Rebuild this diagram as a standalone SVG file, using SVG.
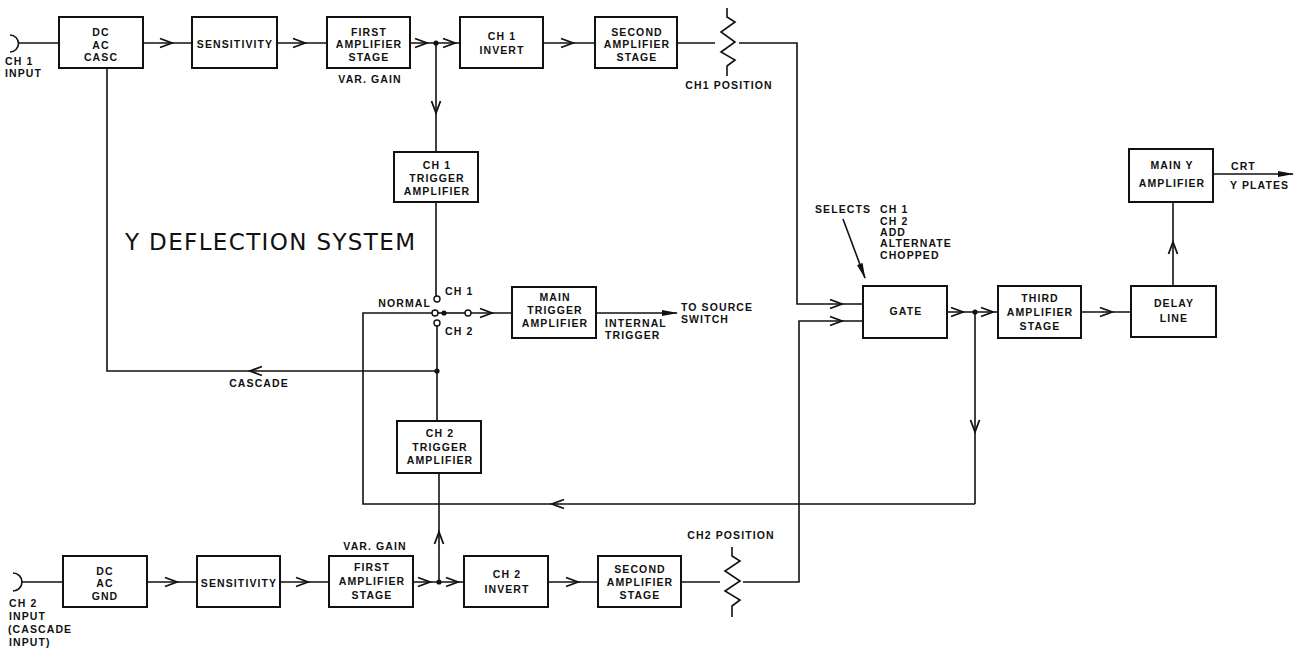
<svg xmlns="http://www.w3.org/2000/svg" xmlns:xlink="http://www.w3.org/1999/xlink" width="1305" height="651" viewBox="0 0 1305 651">
<style>
.bx{fill:#fff;stroke:#111;stroke-width:2}
.ln{fill:none;stroke:#111;stroke-width:1.6}
.t{font-family:"Liberation Sans",Arial,sans-serif;font-weight:bold;font-size:10.5px;letter-spacing:1.1px;fill:#111;text-anchor:middle}
.ts{font-family:"Liberation Sans",Arial,sans-serif;font-weight:bold;font-size:10.5px;letter-spacing:1.1px;fill:#111}
.title{font-family:"DejaVu Sans","Liberation Sans",sans-serif;font-size:23px;fill:#111}
.dot{fill:#111}
.oc{fill:#fff;stroke:#111;stroke-width:1.4}
</style>
<defs>
<path id="chev" d="M-12,-4.5 L0,0 L-12,4.5" fill="none" stroke="#111" stroke-width="1.8"/>
<marker id="fa" markerWidth="16" markerHeight="8" refX="15" refY="4" orient="auto" markerUnits="userSpaceOnUse"><path d="M0,1 L16,4 L0,7 z" fill="#111"/></marker>
</defs>
<rect width="1305" height="651" fill="#fff"/>

<g id="connectors">
<path class="ln" d="M10,35 A8.5,8.5 0 0 1 10,52"/>
<line class="ln" x1="18" y1="43" x2="59" y2="43"/>
<line class="ln" x1="143" y1="43" x2="192" y2="43"/>
<use xlink:href="#chev" transform="translate(172,43)"/>
<line class="ln" x1="277" y1="43" x2="327" y2="43"/>
<use xlink:href="#chev" transform="translate(305,43)"/>
<line class="ln" x1="410" y1="43" x2="460" y2="43"/>
<use xlink:href="#chev" transform="translate(427,43)"/>
<use xlink:href="#chev" transform="translate(455,43)"/>
<circle class="dot" cx="436" cy="43" r="2.6"/>
<line class="ln" x1="543" y1="43" x2="595" y2="43"/>
<use xlink:href="#chev" transform="translate(573,43)"/>
<line class="ln" x1="677" y1="43" x2="715" y2="43"/>
<polyline class="ln" points="727,8 727,17 735,22 721,32 735,42 721,52 735,60 727,66 727,76"/>
<polyline class="ln" points="739,43 797,43 797,304 863,304"/>
<use xlink:href="#chev" transform="translate(842,304)"/>
<line class="ln" x1="436" y1="43" x2="436" y2="152"/>
<use xlink:href="#chev" transform="translate(436,113) rotate(90)"/>
<line class="ln" x1="436" y1="202" x2="436" y2="296"/>
<polyline class="ln" points="432,313 363,313 363,504 975,504"/>
<use xlink:href="#chev" transform="translate(552,504) rotate(180)"/>
<line class="ln" x1="438" y1="313" x2="465" y2="313"/>
<circle class="dot" cx="444" cy="313" r="2.6"/>
<line class="ln" x1="471" y1="313" x2="512" y2="313"/>
<use xlink:href="#chev" transform="translate(492,313)"/>
<line class="ln" x1="437" y1="326" x2="437" y2="421"/>
<circle class="oc" cx="437" cy="299" r="3"/>
<circle class="oc" cx="435" cy="313" r="3"/>
<circle class="oc" cx="468" cy="313" r="3"/>
<circle class="oc" cx="437" cy="323" r="3"/>
<line class="ln" x1="596" y1="313" x2="677" y2="313" marker-end="url(#fa)"/>
<polyline class="ln" points="437,371 107,371 107,68"/>
<use xlink:href="#chev" transform="translate(250,371) rotate(180)"/>
<circle class="dot" cx="437" cy="371" r="2.6"/>
<line class="ln" x1="439" y1="473" x2="439" y2="582"/>
<use xlink:href="#chev" transform="translate(439,532) rotate(-90)"/>
<path class="ln" d="M13,573 A9,9 0 0 1 13,591"/>
<line class="ln" x1="22" y1="582" x2="63" y2="582"/>
<line class="ln" x1="147" y1="582" x2="197" y2="582"/>
<use xlink:href="#chev" transform="translate(177,582)"/>
<line class="ln" x1="280" y1="582" x2="329" y2="582"/>
<use xlink:href="#chev" transform="translate(308,582)"/>
<line class="ln" x1="413" y1="582" x2="464" y2="582"/>
<use xlink:href="#chev" transform="translate(430,582)"/>
<use xlink:href="#chev" transform="translate(458,582)"/>
<circle class="dot" cx="439" cy="582" r="2.6"/>
<line class="ln" x1="548" y1="582" x2="598" y2="582"/>
<use xlink:href="#chev" transform="translate(578,582)"/>
<line class="ln" x1="681" y1="582" x2="720" y2="582"/>
<polyline class="ln" points="732,547 732,556 740,561 725,571 740,581 725,591 740,600 732,606 732,617"/>
<polyline class="ln" points="743,582 799,582 799,321 863,321"/>
<use xlink:href="#chev" transform="translate(842,321)"/>
<line class="ln" x1="947" y1="312" x2="998" y2="312"/>
<use xlink:href="#chev" transform="translate(963,312)"/>
<use xlink:href="#chev" transform="translate(993,312)"/>
<circle class="dot" cx="975" cy="312" r="2.6"/>
<line class="ln" x1="975" y1="312" x2="975" y2="504"/>
<use xlink:href="#chev" transform="translate(975,432) rotate(90)"/>
<line class="ln" x1="1081" y1="312" x2="1131" y2="312"/>
<use xlink:href="#chev" transform="translate(1112,312)"/>
<line class="ln" x1="1173" y1="286" x2="1173" y2="202"/>
<use xlink:href="#chev" transform="translate(1173,242) rotate(-90)"/>
<line class="ln" x1="1213" y1="174" x2="1293" y2="174" marker-end="url(#fa)"/>
<line class="ln" x1="843" y1="219" x2="865" y2="278" marker-end="url(#fa)"/>
</g>

<g id="ch1-dc"><rect class="bx" x="59" y="17" width="84" height="51"/>
<text class="t" x="101" y="36">DC</text><text class="t" x="101" y="48.5">AC</text><text class="t" x="101" y="61">CASC</text></g>
<g id="ch1-sens"><rect class="bx" x="192" y="17" width="85" height="51"/><text class="t" x="235" y="48">SENSITIVITY</text></g>
<g id="ch1-first"><rect class="bx" x="327" y="17" width="83" height="51"/>
<text class="t" x="369" y="35.5">FIRST</text><text class="t" x="369" y="48">AMPLIFIER</text><text class="t" x="369" y="60.5">STAGE</text></g>
<g id="ch1-invert"><rect class="bx" x="460" y="17" width="83" height="51"/>
<text class="t" x="502" y="39.5">CH 1</text><text class="t" x="502" y="54">INVERT</text></g>
<g id="ch1-second"><rect class="bx" x="595" y="17" width="82" height="51"/>
<text class="t" x="637" y="35.5">SECOND</text><text class="t" x="637" y="48">AMPLIFIER</text><text class="t" x="637" y="60.5">STAGE</text></g>
<g id="ch1-trig"><rect class="bx" x="394" y="152" width="84" height="50"/>
<text class="t" x="437" y="168.5">CH 1</text><text class="t" x="437" y="182">TRIGGER</text><text class="t" x="437" y="195">AMPLIFIER</text></g>
<g id="main-trig"><rect class="bx" x="512" y="287" width="84" height="51"/>
<text class="t" x="555" y="301">MAIN</text><text class="t" x="555" y="314">TRIGGER</text><text class="t" x="555" y="327">AMPLIFIER</text></g>
<g id="ch2-trig"><rect class="bx" x="397" y="421" width="84" height="52"/>
<text class="t" x="440" y="437">CH 2</text><text class="t" x="440" y="450.5">TRIGGER</text><text class="t" x="440" y="464">AMPLIFIER</text></g>
<g id="ch2-dc"><rect class="bx" x="63" y="556" width="84" height="51"/>
<text class="t" x="105" y="574.5">DC</text><text class="t" x="105" y="587">AC</text><text class="t" x="105" y="600">GND</text></g>
<g id="ch2-sens"><rect class="bx" x="197" y="556" width="83" height="51"/><text class="t" x="239" y="586.5">SENSITIVITY</text></g>
<g id="ch2-first"><rect class="bx" x="329" y="556" width="84" height="51"/>
<text class="t" x="372" y="571">FIRST</text><text class="t" x="372" y="585">AMPLIFIER</text><text class="t" x="372" y="599">STAGE</text></g>
<g id="ch2-invert"><rect class="bx" x="464" y="556" width="84" height="51"/>
<text class="t" x="507" y="578">CH 2</text><text class="t" x="507" y="593">INVERT</text></g>
<g id="ch2-second"><rect class="bx" x="598" y="556" width="83" height="51"/>
<text class="t" x="640" y="573">SECOND</text><text class="t" x="640" y="586">AMPLIFIER</text><text class="t" x="640" y="599">STAGE</text></g>
<g id="gate"><rect class="bx" x="863" y="286" width="84" height="52"/><text class="t" x="906" y="315">GATE</text></g>
<g id="third"><rect class="bx" x="998" y="286" width="83" height="52"/>
<text class="t" x="1040" y="302">THIRD</text><text class="t" x="1040" y="315.5">AMPLIFIER</text><text class="t" x="1040" y="329.5">STAGE</text></g>
<g id="delay"><rect class="bx" x="1131" y="286" width="85" height="51"/>
<text class="t" x="1174" y="307">DELAY</text><text class="t" x="1174" y="321.5">LINE</text></g>
<g id="mainy"><rect class="bx" x="1129" y="149" width="84" height="53"/>
<text class="t" x="1172" y="169">MAIN Y</text><text class="t" x="1172" y="187">AMPLIFIER</text></g>

<g id="labels">
<text class="ts" x="5" y="65">CH 1</text><text class="ts" x="5" y="77">INPUT</text>
<text class="t" x="370" y="83">VAR. GAIN</text>
<text class="t" x="729" y="89">CH1 POSITION</text>
<text class="title" x="125" y="250" textLength="290" lengthAdjust="spacing">Y DEFLECTION SYSTEM</text>
<text class="ts" x="445" y="295">CH 1</text>
<text class="ts" x="431" y="307" style="text-anchor:end">NORMAL</text>
<text class="ts" x="445" y="335">CH 2</text>
<text class="ts" x="681" y="311">TO SOURCE</text><text class="ts" x="681" y="323">SWITCH</text>
<text class="ts" x="605" y="327">INTERNAL</text><text class="ts" x="605" y="339">TRIGGER</text>
<text class="t" x="259" y="387">CASCADE</text>
<text class="t" x="375" y="550">VAR. GAIN</text>
<text class="t" x="731" y="539">CH2 POSITION</text>
<text class="ts" x="9" y="607">CH 2</text><text class="ts" x="9" y="620">INPUT</text><text class="ts" x="8" y="633">(CASCADE</text><text class="ts" x="9" y="646">INPUT)</text>
<text class="ts" x="815" y="213">SELECTS</text>
<text class="ts" x="880" y="213">CH 1</text><text class="ts" x="880" y="225">CH 2</text><text class="ts" x="880" y="236">ADD</text><text class="ts" x="880" y="247">ALTERNATE</text><text class="ts" x="880" y="259">CHOPPED</text>
<text class="ts" x="1231" y="170">CRT</text><text class="ts" x="1230" y="189">Y PLATES</text>
</g>
</svg>
